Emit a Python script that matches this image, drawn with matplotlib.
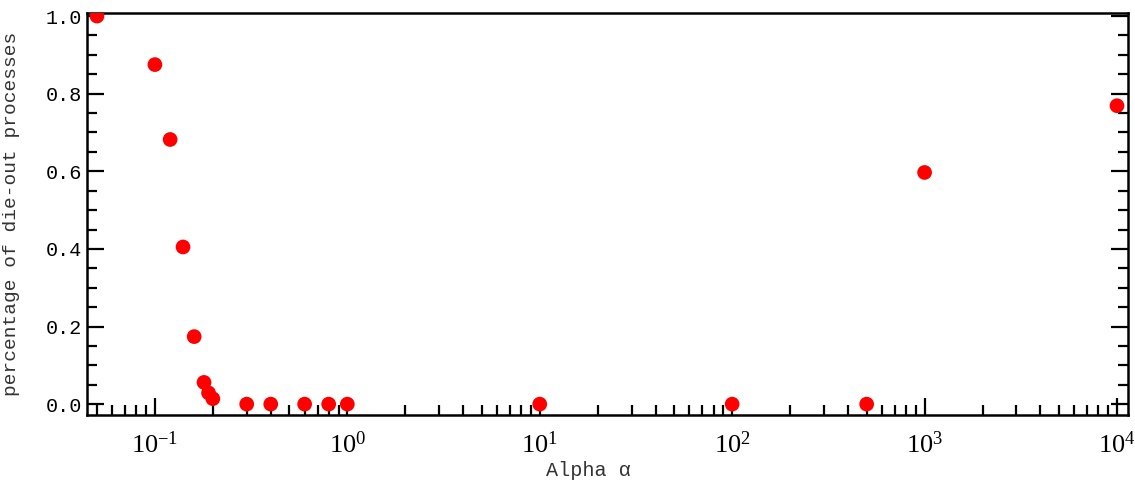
import matplotlib
matplotlib.use("Agg")
import matplotlib.pyplot as plt
import matplotlib.ticker as ticker
import numpy as np

# alpha values and fraction of die-out processes
alpha = [0.05, 0.1, 0.12, 0.14, 0.16, 0.18, 0.19, 0.2, 0.3, 0.4, 0.6, 0.8, 1.0,
         10, 100, 500, 1000, 10000]
dieout = [1.0, 0.875, 0.682, 0.405, 0.174, 0.056, 0.029, 0.014, 0.0, 0.0, 0.0,
          0.0, 0.0, 0.0, 0.0, 0.0, 0.597, 0.769]

plt.rcParams['font.family'] = ['Liberation Mono', 'DejaVu Sans']
plt.rcParams['mathtext.fontset'] = 'custom'
plt.rcParams['mathtext.rm'] = 'Liberation Serif'
plt.rcParams['mathtext.it'] = 'Liberation Serif'
plt.rcParams['font.size'] = 14

fig = plt.figure(figsize=(11.35, 4.86), dpi=100)
ax = fig.add_axes([0.0767, 0.1461, 0.9171, 0.8272])

ax.scatter(alpha, dieout, s=112, color="red", edgecolors="none", zorder=3)

ax.set_xscale("log")
ax.set_xlim(0.0444, 11400)
ax.set_ylim(-0.028, 1.008)

def log_fmt(x, pos):
    return r'$\mathrm{10^{%d}}$' % int(round(np.log10(x)))

ax.yaxis.set_major_locator(ticker.MultipleLocator(0.2))
ax.yaxis.set_minor_locator(ticker.MultipleLocator(0.05))
ax.yaxis.set_major_formatter(ticker.FormatStrFormatter('%.1f'))
ax.xaxis.set_major_formatter(ticker.FuncFormatter(log_fmt))
ax.xaxis.set_minor_locator(ticker.LogLocator(base=10, subs=np.arange(2, 10), numticks=20))
ax.xaxis.set_minor_formatter(ticker.NullFormatter())

ax.tick_params(axis='both', which='major', direction='in', length=12, width=1.6)
ax.tick_params(axis='both', which='minor', direction='in', length=7, width=1.6)
ax.tick_params(axis='y', which='both', right=True, labelsize=14.5)
ax.tick_params(axis='x', which='both', top=False, pad=12, labelsize=19)
for sp in ax.spines.values():
    sp.set_linewidth(1.8)

ax.set_xlabel("Alpha α", fontsize=14.5, color="#333333")
ax.xaxis.set_label_coords(0.482, -0.115)
ax.set_ylabel("percentage of die-out processes", fontsize=14, color="#333333")
ax.yaxis.set_label_coords(-0.064, 0.5)

fig.savefig("out.png", dpi=100)
